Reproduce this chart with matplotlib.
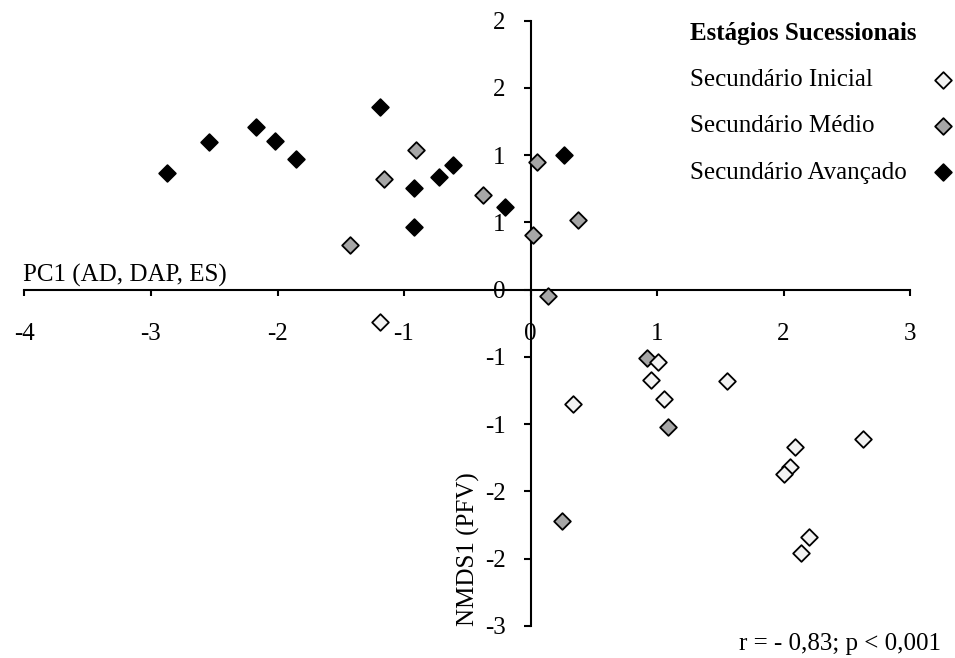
import matplotlib
matplotlib.use('Agg')
import matplotlib.pyplot as plt

plt.rcParams['font.family'] = ['Liberation Serif', 'DejaVu Serif']
plt.rcParams['axes.unicode_minus'] = False

# series: (PC1, NMDS1)
inicial_x = [-1.19, 1.01, 0.95, 1.55, 1.055, 0.334, 2.09, 2.63, 2.05, 2.006, 2.204, 2.138]
inicial_y = [-0.24, -0.541, -0.674, -0.677, -0.81, -0.85, -1.167, -1.11, -1.322, -1.372, -1.839, -1.958]

medio_x = [-0.905, -1.158, -0.378, -1.427, 0.054, 0.022, 0.373, 0.141, 0.919, 1.089, 0.247]
medio_y = [1.041, 0.825, 0.706, 0.329, 0.949, 0.409, 0.52, -0.05, -0.508, -1.021, -1.717]

avancado_x = [-2.876, -2.539, -2.172, -2.02, -1.856, -1.19, -0.919, -0.721, -0.615, -0.202, -0.919, 0.267]
avancado_y = [0.868, 1.095, 1.207, 1.108, 0.972, 1.358, 0.756, 0.835, 0.929, 0.612, 0.463, 1.004]

series_names = ['Secundário Inicial', 'Secundário Médio', 'Secundário Avançado']
legend_title = 'Estágios Sucessionais'

x_ticks = [-4, -3, -2, -1, 0, 1, 2, 3]
x_tick_labels = ['-4', '-3', '-2', '-1', '0', '1', '2', '3']
y_ticks = [-2.5, -2.0, -1.5, -1.0, -0.5, 0.0, 0.5, 1.0, 1.5, 2.0]
y_tick_labels = ['-3', '-2', '-2', '-1', '-1', '0', '1', '1', '2', '2']

stat_text = 'r = - 0,83; p < 0,001'

W, H = 955, 658
fig = plt.figure(figsize=(W / 100, H / 100), dpi=100)
ax = fig.add_axes([24.5 / W, 1 - 626 / H, (910 - 24.5) / W, (626 - 20.5) / H])

ax.set_xlim(-4, 3)
ax.set_ylim(-2.5, 2.0)

for s in ['top', 'right']:
    ax.spines[s].set_visible(False)
ax.spines['left'].set_position(('data', 0))
ax.spines['bottom'].set_position(('data', 0))
for s in ['left', 'bottom']:
    ax.spines[s].set_linewidth(1.5)

ax.set_xticks(x_ticks)
ax.set_xticklabels(x_tick_labels)
ax.set_yticks(y_ticks)
ax.set_yticklabels(y_tick_labels)
ax.tick_params(axis='x', direction='out', length=4, width=1.5, pad=20, labelsize=18)
ax.tick_params(axis='y', direction='out', length=5, width=1.5, pad=13, labelsize=18)

kw = dict(marker='D', s=72, edgecolors='black', linewidths=1.3, zorder=3)
h_av = ax.scatter(avancado_x, avancado_y, c='black', label=series_names[2], **kw)
h_me = ax.scatter(medio_x, medio_y, c='#a6a6a6', label=series_names[1], **kw)
h_in = ax.scatter(inicial_x, inicial_y, c='#f2f2f2', label=series_names[0], **kw)

ax.set_xlabel('PC1 (AD, DAP, ES)', fontsize=18, ha='left', va='baseline')
ax.xaxis.set_label_coords(-0.002, 0.568)
ax.set_ylabel('NMDS1 (PFV)', fontsize=18, ha='center', va='center')
ax.yaxis.set_label_coords(0.5008, 0.127)

ax.text(941 / W, 1 - 650 / H, stat_text, transform=fig.transFigure,
        fontsize=18, ha='right', va='baseline')

leg = ax.legend(handles=[h_in, h_me, h_av], title=legend_title,
                title_fontproperties={'weight': 'bold', 'size': 18},
                fontsize=18, frameon=False, markerfirst=False, alignment='left',
                loc='upper left', bbox_to_anchor=(690 / W, 1 - 22 / H),
                bbox_transform=fig.transFigure, borderpad=0, labelspacing=0.95,
                handlelength=0.8, handletextpad=0.1, borderaxespad=0)

# text left, marker pushed to the right edge of each row
for col in leg._legend_handle_box.get_children():
    for row in col.get_children():
        row.width = 263
        row.mode = 'expand'

fig.savefig('out.png', dpi=100)
